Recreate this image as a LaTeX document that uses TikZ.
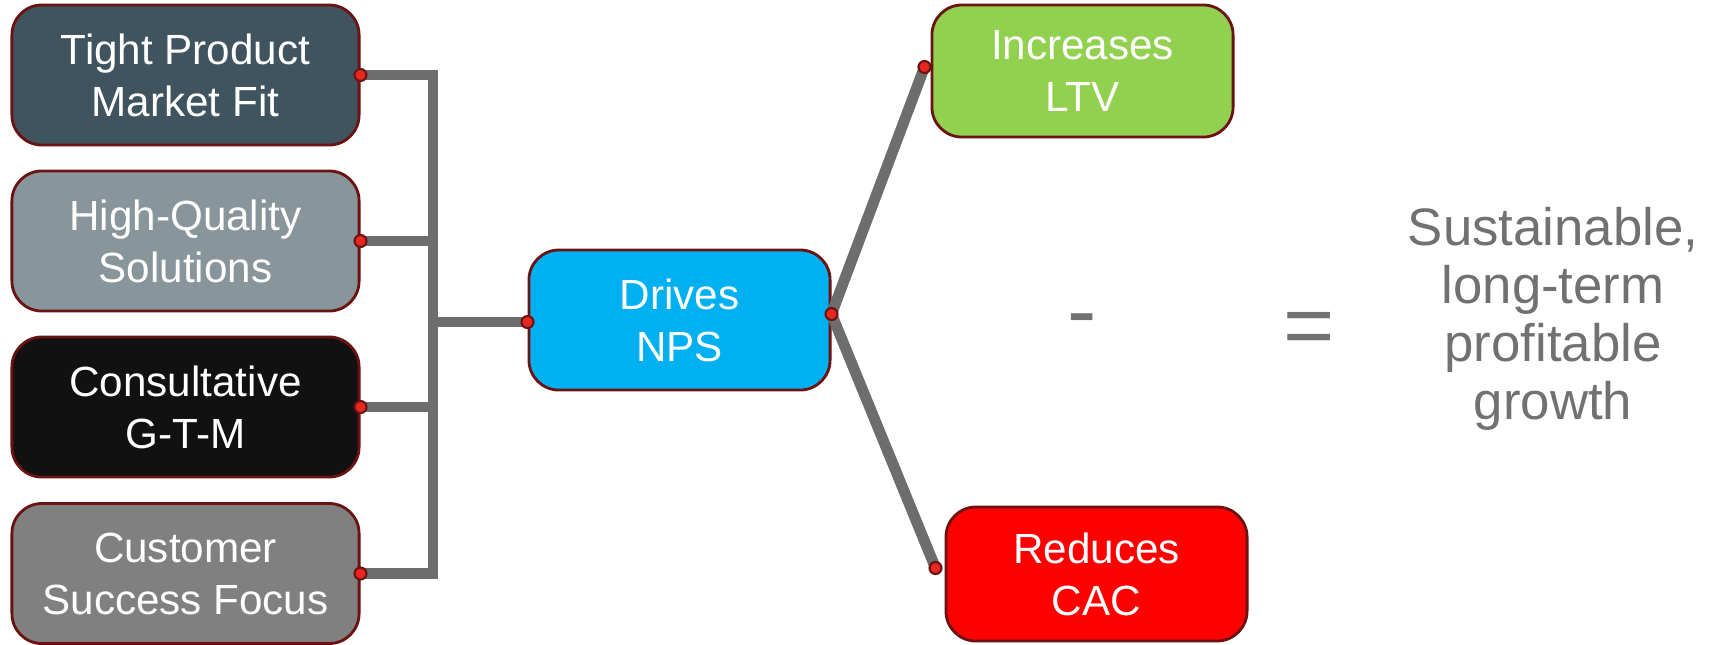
\documentclass[tikz,border=0pt]{standalone}
\usepackage{fontspec}
\setmainfont{Liberation Sans}
\definecolor{rim}{HTML}{6B1212}
\definecolor{wiregray}{HTML}{6D6D6E}
\definecolor{pinred}{HTML}{E8281E}
\definecolor{slate}{HTML}{40545F}
\definecolor{steel}{HTML}{88969C}
\definecolor{ink}{HTML}{111111}
\definecolor{midgray}{HTML}{808080}
\definecolor{sky}{HTML}{00B0F0}
\definecolor{leaf}{HTML}{92D050}
\definecolor{alarm}{HTML}{FF0000}
\definecolor{sumgray}{HTML}{717171}
\tikzset{
  box/.style={draw=rim, line width=0.8pt, rounded corners=0.3cm, minimum width=3.47cm, minimum height=1.40cm, inner sep=0pt, align=center, text=white, font=\fontsize{12}{14.8}\selectfont},
  wire/.style={draw=wiregray, line width=3.1pt},
  pin/.style={draw=rim, fill=pinred, line width=0.6pt},
  sumtext/.style={text=sumgray, align=center, inner sep=0pt}
}

\begin{document}
\begin{tikzpicture}[x=0.01cm, y=-0.01cm]
			%%%%% START %%%%%
			\useasboundingbox (0, 0) rectangle (1713, 644);
			
			\node[box, fill=slate] (fit) at (185.5, 75) {Tight Product\\Market Fit};
			\node[box, fill=steel] (hq) at (185.5, 241) {High-Quality\\Solutions};
			\node[box, fill=ink] (gtm) at (185.5, 407) {Consultative\\G-T-M};
			\node[box, fill=midgray] (cs) at (185.5, 573.5) {Customer\\Success Focus};
			
			\node[box, fill=sky, minimum width=3.01cm] (nps) at (679.5, 320) {Drives\\NPS};
			\node[box, fill=leaf, minimum width=3.01cm, minimum height=1.32cm] (ltv) at (1082.5, 71) {Increases\\LTV};
			\node[box, fill=alarm, minimum width=3.01cm, minimum height=1.34cm] (cac) at (1096.5, 574) {Reduces\\CAC};
			
			\coordinate (spine) at (433, 322);
			\coordinate (npsin) at (nps.west |- spine);
			\coordinate (npsout) at ([yshift=0.06cm]nps.east);
			\coordinate (ltvin) at ([xshift=-0.06cm, yshift=0.04cm]ltv.west);
			\coordinate (cacin) at ([xshift=-0.09cm, yshift=0.06cm]cac.west);
			
			\draw[wire] (fit.east) -| (spine) |- (cs.east);
			\draw[wire] (hq.east) -- (hq.east -| spine);
			\draw[wire] (gtm.east) -- (gtm.east -| spine);
			\draw[wire] (spine) -- (npsin);
			\draw[wire] (npsout) -- (ltvin);
			\draw[wire] (npsout) -- (cacin);
			
			\draw[pin] (fit.east) circle[radius=0.06cm];
			\draw[pin] (hq.east) circle[radius=0.06cm];
			\draw[pin] (gtm.east) circle[radius=0.06cm];
			\draw[pin] (cs.east) circle[radius=0.06cm];
			\draw[pin] (npsin) circle[radius=0.06cm];
			\draw[pin] (npsout) circle[radius=0.06cm];
			\draw[pin] (ltvin) circle[radius=0.06cm];
			\draw[pin] (cacin) circle[radius=0.06cm];
			
			\node[sumtext, font=\fontsize{25}{30}\selectfont] (minus) at (1082, 327) {-};
			\node[sumtext, font=\fontsize{25}{30}\selectfont] (equals) at (1309, 334) {=};
			\node[sumtext, font=\fontsize{15}{16.5}\selectfont] (growth) at (1553, 319) {Sustainable,\\long-term\\profitable\\growth};
			
			%%%%% END %%%%%
		\end{tikzpicture}
\end{document}
